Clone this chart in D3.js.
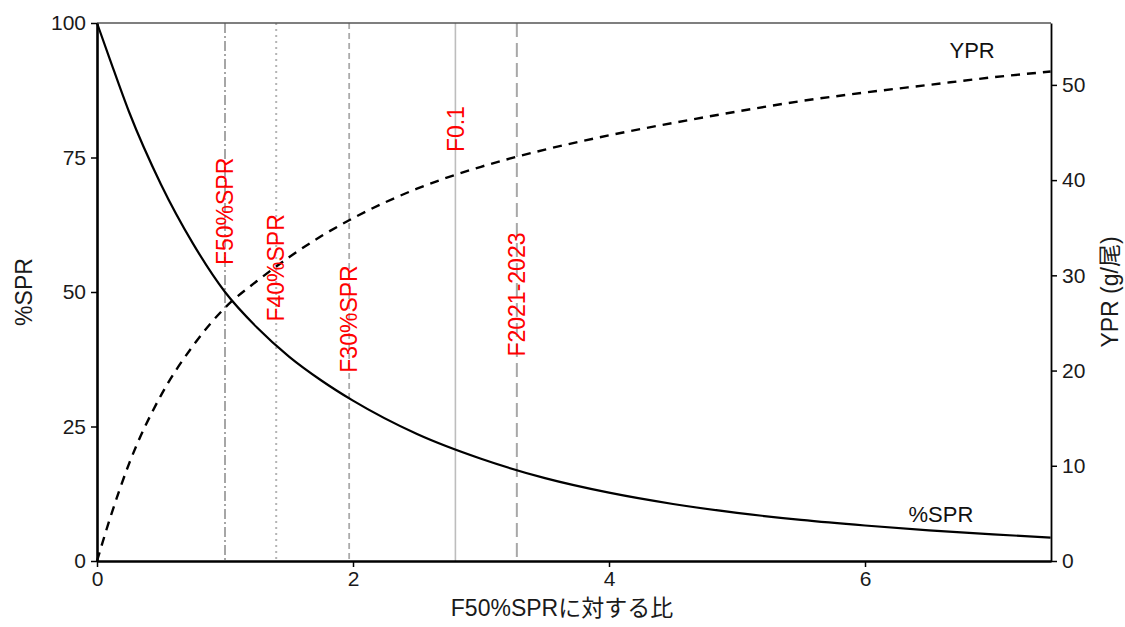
<!DOCTYPE html>
<html>
<head>
<meta charset="utf-8">
<script src="https://cdn.jsdelivr.net/npm/d3@7"></script>
<style>
  html, body { margin: 0; padding: 0; background: #fff; }
  svg { display: block; }
  text { font-family: "Liberation Sans", Arial, "Noto Sans CJK JP", sans-serif; }
</style>
</head>
<body>
<svg id="chart" width="1125" height="627"></svg>
<script>
// ---- data ----
const fRatio = [0, 0.1, 0.25, 0.5, 0.75, 1.0, 1.25, 1.5, 1.75, 2.0, 2.5, 3.0, 3.5, 4.0, 4.5, 5.0, 5.5, 6.0, 6.5, 7.0, 7.45];
const sprValues = [100, 93.3, 83.5, 70.0, 59.0, 50.0, 43.4, 38.0, 33.6, 29.8, 23.6, 19.0, 15.4, 12.7, 10.6, 8.95, 7.65, 6.6, 5.7, 4.95, 4.35];
const yprValues = [0, 4.4, 10.2, 17.4, 22.6, 26.6, 29.4, 31.9, 34.1, 36.0, 39.1, 41.4, 43.2, 44.7, 46.0, 47.2, 48.3, 49.2, 50.0, 50.8, 51.4];

const refNames = ["F50%SPR", "F40%SPR", "F30%SPR", "F0.1", "F2021-2023"];
const refValues = [1.0, 1.4, 1.97, 2.8, 3.28];
const refLabelY = [55, 44.5, 35, 76, 38]; // label base, in %SPR units

const xTicks = [0, 2, 4, 6];
const sprTicks = [0, 25, 50, 75, 100];
const yprTicks = [0, 10, 20, 30, 40, 50];

const xTitle = "F50%SPRに対する比";
const yLeftTitle = "%SPR";
const yRightTitle = "YPR (g/尾)";
const curveLabels = ["YPR", "%SPR"];

// ---- layout ----
const svg = d3.select("#chart");
const L = 97, R = 1051, T = 23, B = 561;

const x = d3.scaleLinear().domain([0, 7.453]).range([L, R]);
const ySpr = d3.scaleLinear().domain([0, 100]).range([B, T]);
const yYpr = d3.scaleLinear().domain([0, 56.5]).range([B, T]);

// reference line styles
const refStyles = [
  { dash: "10,3,2,3", color: "#a6a6a6", w: 2 },
  { dash: "2,4", color: "#b4b4b4", w: 2 },
  { dash: "6,4", color: "#ababab", w: 1.8 },
  { dash: null, color: "#bdbdbd", w: 1.6 },
  { dash: "14,6", color: "#a8a8a8", w: 2 }
];

const refs = refNames.map((n, i) => ({ name: n, v: refValues[i], ly: refLabelY[i], s: refStyles[i] }));

svg.append("g").selectAll("line").data(refs).join("line")
  .attr("x1", d => x(d.v)).attr("x2", d => x(d.v))
  .attr("y1", T).attr("y2", B)
  .attr("stroke", d => d.s.color)
  .attr("stroke-width", d => d.s.w)
  .attr("stroke-dasharray", d => d.s.dash);

// curves
const pts = fRatio.map((f, i) => ({ f, spr: sprValues[i], ypr: yprValues[i] }));
svg.append("path").datum(pts)
  .attr("fill", "none").attr("stroke", "#000").attr("stroke-width", 2.2)
  .attr("d", d3.line().x(d => x(d.f)).y(d => ySpr(d.spr)).curve(d3.curveMonotoneX));
svg.append("path").datum(pts)
  .attr("fill", "none").attr("stroke", "#000").attr("stroke-width", 2.4)
  .attr("stroke-dasharray", "9,7")
  .attr("d", d3.line().x(d => x(d.f)).y(d => yYpr(d.ypr)).curve(d3.curveMonotoneX));

// reference labels
svg.append("g").selectAll("text").data(refs).join("text")
  .attr("transform", d => `translate(${x(d.v)},${ySpr(d.ly)}) rotate(-90)`)
  .attr("dy", "0.36em")
  .attr("fill", "#ff0000")
  .attr("font-size", 23)
  .text(d => d.name);

// curve labels
svg.append("text").attr("x", x(6.66)).attr("y", yYpr(52.8)).attr("font-size", 22)
  .attr("fill", "#111").text(curveLabels[0]);
svg.append("text").attr("x", x(6.34)).attr("y", ySpr(7.3)).attr("font-size", 22)
  .attr("fill", "#111").text(curveLabels[1]);

// frame top
svg.append("line").attr("x1", L).attr("x2", R).attr("y1", T).attr("y2", T)
  .attr("stroke", "#555").attr("stroke-width", 1.6);

// axes
function styleAxis(g, w) {
  g.selectAll(".domain").attr("stroke", "#000").attr("stroke-width", w);
  g.selectAll(".tick line").attr("stroke", "#000").attr("stroke-width", 1.5);
  g.selectAll(".tick text").attr("font-size", 21).attr("fill", "#1a1a1a")
    .attr("font-family", '"Liberation Sans", Arial, sans-serif');
}

const gx = svg.append("g").attr("transform", `translate(0,${B})`)
  .call(d3.axisBottom(x).tickValues(xTicks).tickFormat(d3.format("d")).tickSize(6).tickSizeOuter(0).tickPadding(4));
styleAxis(gx, 2.6);

const gyl = svg.append("g").attr("transform", `translate(${L},0)`)
  .call(d3.axisLeft(ySpr).tickValues(sprTicks).tickFormat(d3.format("d")).tickSize(6).tickSizeOuter(0).tickPadding(5));
styleAxis(gyl, 2.6);

const gyr = svg.append("g").attr("transform", `translate(${R},0)`)
  .call(d3.axisRight(yYpr).tickValues(yprTicks).tickFormat(d3.format("d")).tickSize(6).tickSizeOuter(0).tickPadding(5));
styleAxis(gyr, 1.8);

// titles
svg.append("text").attr("x", 562).attr("y", 616).attr("text-anchor", "middle")
  .attr("font-size", 23).attr("fill", "#1a1a1a").text(xTitle);
svg.append("text").attr("transform", `translate(32,${(T + B) / 2}) rotate(-90)`)
  .attr("text-anchor", "middle").attr("font-size", 23).attr("fill", "#1a1a1a").text(yLeftTitle);
svg.append("text").attr("transform", `translate(1118,${(T + B) / 2}) rotate(-90)`)
  .attr("text-anchor", "middle").attr("font-size", 23).attr("fill", "#1a1a1a").text(yRightTitle);
</script>
</body>
</html>
